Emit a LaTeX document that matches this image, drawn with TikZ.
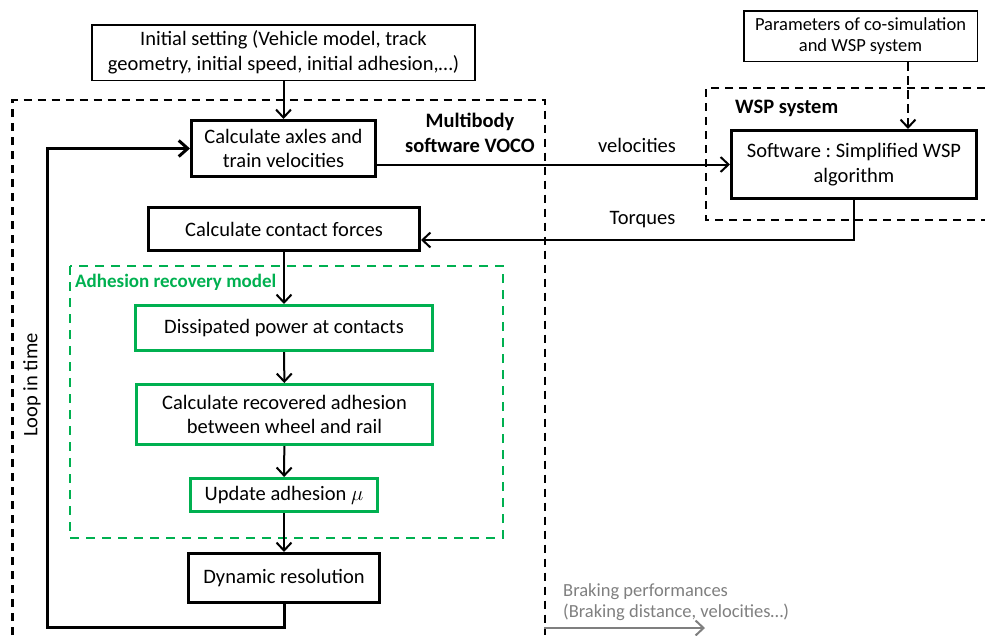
\documentclass[tikz,border=0pt]{standalone}
\usepackage{fontspec}
\setmainfont{Carlito}
\usetikzlibrary{arrows.meta,calc}
\definecolor{grn}{HTML}{00B050}
\definecolor{gry}{HTML}{7F7F7F}
\frenchspacing
\begin{document}
\begin{tikzpicture}[x=1pt,y=-1pt,
  every node/.style={font=\fontsize{20.5}{24.5}\selectfont, inner sep=0pt, align=center},
  thinbox/.style={draw, line width=1.5pt},
  thickbox/.style={draw, line width=3pt},
  greenbox/.style={draw=grn, line width=3pt},
  dashbox/.style={draw, line width=2.5pt, dash pattern=on 8pt off 6pt},
  greendash/.style={draw=grn, line width=2.2pt, dash pattern=on 9pt off 7pt},
  arr/.style={line width=2pt, -{Straight Barb[length=8pt,width=15pt]}},
  looparr/.style={line width=3pt, -{Straight Barb[length=9pt,width=16pt]}},
  grayarr/.style={draw=gry, line width=2pt, -{Straight Barb[length=8pt,width=15pt]}},
  boldlbl/.style={font=\fontsize{20.5}{25}\selectfont\bfseries}
]
\useasboundingbox (0,0) rectangle (985,635);

% containers
\draw[dashbox] (12.5,635) -- (12.5,100) -- (545,100) -- (545,635);
\draw[dashbox] (985,88) -- (706,88) -- (706,220) -- (985,220);
\draw[greendash] (70,266) rectangle (503,538);

% nodes
\node[thinbox, minimum width=383pt, minimum height=55.5pt] (init) at (283.5,52.5)
  {Initial setting (Vehicle model, track\\geometry, initial speed, initial adhesion,…)};
\node[thickbox, minimum width=184pt, minimum height=56pt] (axles) at (283.5,148.5)
  {Calculate axles and\\train velocities};
\node[thickbox, minimum width=271pt, minimum height=43pt] (contact) at (284,229)
  {Calculate contact forces};
\node[greenbox, minimum width=297pt, minimum height=45pt] (dissip) at (284,328)
  {Dissipated power at contacts};
\node[greenbox, minimum width=296pt, minimum height=60pt] (recov) at (284.5,414.5)
  {Calculate recovered adhesion\\between wheel and rail};
\node[greenbox, minimum width=187pt, minimum height=33pt] (update) at (284,495)
  {Update adhesion $\mu$};
\node[thickbox, minimum width=190.5pt, minimum height=49pt] (dynamic) at (284,578)
  {Dynamic resolution};
\node[thickbox, minimum width=245pt, minimum height=68pt] (software) at (854,164.5)
  {Software : Simplified WSP\\algorithm};
\node[thinbox, minimum width=233.5pt, minimum height=50.5pt,
  font=\fontsize{18.5}{21}\selectfont] (params) at (860.5,36)
  {Parameters of co-simulation\\and WSP system};

% labels
\node[boldlbl] (mbl) at (470,133) {Multibody\\software VOCO};
\node[boldlbl, anchor=west] (wspl) at (735,108) {WSP system};
\node[font=\fontsize{19}{23}\selectfont\bfseries, text=grn, anchor=west] (adl) at (75,282) {Adhesion recovery model};
\node (vel) at (637,145) {velocities};
\node (tor) at (642.5,220) {Torques};
\node[rotate=90] (loop) at (32,385) {Loop in time};
\node[font=\fontsize{18.5}{20.5}\selectfont, text=gry, align=left, anchor=west] (brk) at (563,602)
  {Braking performances\\(Braking distance, velocities…)};

% helper coordinates
\coordinate (px) at (908,0);
\coordinate (tq) at (0,240);
\coordinate (lb) at (47,627);
\coordinate (bs) at (544,628);
\coordinate (be) at (705,628);

% connectors
\draw[arr] (init) -- (axles);
\draw[arr] (axles.east |- software.west) -- (software.west);
\draw[arr] (software.south) |- (contact.east |- tq);
\draw[arr, dash pattern=on 9pt off 5pt] (params.south -| px) -- (software.north -| px);
\draw[arr] (contact) -- (dissip);
\draw[arr] (dissip) -- (recov);
\draw[arr] (recov) -- (update);
\draw[arr] (update) -- (dynamic);
\draw[looparr] (dynamic.south) |- (lb) |- (axles.west);
\draw[grayarr] (bs) -- (be);
\end{tikzpicture}
\end{document}
